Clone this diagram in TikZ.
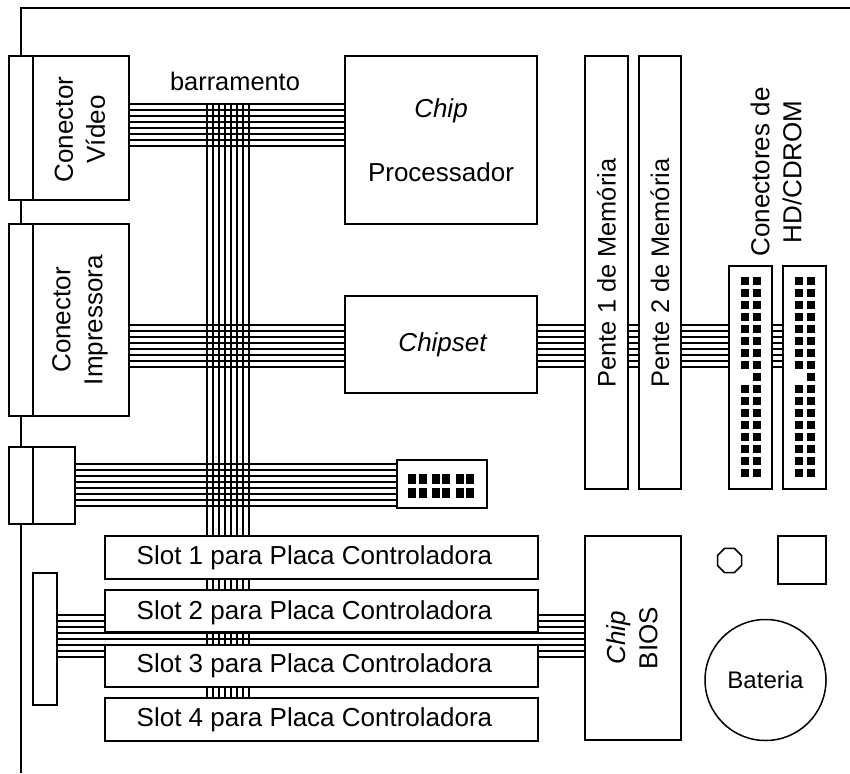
\documentclass[tikz,border=0pt]{standalone}
\usepackage{fontspec}
\setmainfont{Liberation Sans}
\usetikzlibrary{shapes.geometric}
\begin{document}
\begin{tikzpicture}[x=1pt,y=-1pt,line width=1.5pt,font=\fontsize{26}{32}\selectfont,
 part/.style={draw=black,fill=white,align=center,inner sep=0pt},
 pin/.style={fill=black,minimum size=8pt,inner sep=0pt},
 wire/.style={draw=black,line width=1.4pt},
 sidetext/.style={rotate=90,align=center}]
\useasboundingbox (0,0) rectangle (850,773);
% board outline
\coordinate (corner) at (21,8);
\coordinate (edgeEnd) at (850,8);
\coordinate (bottomEnd) at (21,773);
\draw (edgeEnd) -- (corner) -- (bottomEnd);
% bus lines
\foreach \i in {0,...,7} {
 \draw[wire] (129,{104+6*\i}) -- (345,{104+6*\i});
 \draw[wire] (129,{325+6*\i}) -- (345,{325+6*\i});
 \draw[wire] (537,{325+6*\i}) -- (783,{325+6*\i});
 \draw[wire] (75,{464+6*\i}) -- (397,{464+6*\i});
 \draw[wire] (57,{615+6*\i}) -- (585,{615+6*\i});
 \draw[wire] ({207+6*\i},104) -- ({207+6*\i},698);
}
% connectors on the left
\node[part,minimum width=120pt,minimum height=144pt] (video) at (69,128) {};
\node[part,minimum width=120pt,minimum height=192pt] (printer) at (69,320) {};
\node[part,minimum width=66pt,minimum height=77pt] (extra) at (42,485.5) {};
\draw (33,56) -- (33,200) (33,224) -- (33,416) (33,447) -- (33,524);
\node[sidetext] (videoText) at (80,129.5) {Conector\\Vídeo};
\node[sidetext] (printerText) at (80,320) {Conector\\Impressora};
\node[font=\fontsize{25.4}{32}\selectfont] (busText) at (235,81) {barramento};
% chips
\node[part,minimum width=192pt,minimum height=168pt] (cpu) at (441,140) {\textit{Chip}\\[32pt]Processador};
\node[part,minimum width=192pt,minimum height=97pt] (chipset) at (441,344.5) {\hspace*{4pt}\textit{Chipset}};
% memory
\node[part,minimum width=43pt,minimum height=433pt] (mem1) at (606.5,272.5) {};
\node[part,minimum width=42pt,minimum height=433pt] (mem2) at (660,272.5) {};
\node[rotate=90,font=\fontsize{25.4}{32}\selectfont] (mem1Text) at (606.5,273) {Pente 1 de Memória};
\node[rotate=90,font=\fontsize{25.4}{32}\selectfont] (mem2Text) at (660,273) {Pente 2 de Memória};
% disk connectors
\node[part,minimum width=43pt,minimum height=223pt] (hd1) at (750.5,377.5) {};
\node[part,minimum width=43pt,minimum height=223pt] (hd2) at (804.5,377.5) {};
\node[sidetext] (hdText) at (776,172) {Conectores de\\HD/CDROM};
\foreach \r in {0,...,16} {
 \node[pin] at (756.5,{281+12*\r}) {};
 \node[pin] at (810.5,{281+12*\r}) {};
 \ifnum\r=8\else
 \node[pin] at (744.5,{281+12*\r}) {};
 \node[pin] at (798.5,{281+12*\r}) {};
 \fi
}
% header
\node[part,minimum width=90pt,minimum height=48pt] (header) at (442,484) {};
\foreach \x in {412,423,436,446,460,470} {
 \node[pin,minimum height=10pt] at (\x,478.5) {};
 \node[pin,minimum height=10pt] at (\x,492.5) {};
}
% slots
\node[part,minimum width=433pt,minimum height=43pt] (slot1) at (321.5,557.5) {Slot 1 para Placa Controladora\hspace*{14pt}};
\node[part,minimum width=433pt,minimum height=42pt] (slot2) at (321.5,611) {};
\node (slot2Text) at (314.5,613) {Slot 2 para Placa Controladora};
\node[part,minimum width=433pt,minimum height=42pt] (slot3) at (321.5,666) {Slot 3 para Placa Controladora\hspace*{14pt}};
\node[part,minimum width=433pt,minimum height=43pt] (slot4) at (321.5,719.5) {Slot 4 para Placa Controladora\hspace*{14pt}};
\node[part,minimum width=24pt,minimum height=132pt] (card) at (45,639) {};
% bios and battery
\node[part,minimum width=96pt,minimum height=204pt] (bios) at (633,638) {};
\node[sidetext] (biosText) at (632,638) {\textit{Chip}\\BIOS};
\node[draw,regular polygon,regular polygon sides=8,minimum size=26pt,inner sep=0pt] (jumper) at (729.5,560.5) {};
\node[part,minimum size=48pt] (chipSq) at (802,560) {};
\node[part,circle,minimum size=121pt] (battery) at (765.5,680) {\fontsize{24}{28}\selectfont Bateria};
\end{tikzpicture}
\end{document}
